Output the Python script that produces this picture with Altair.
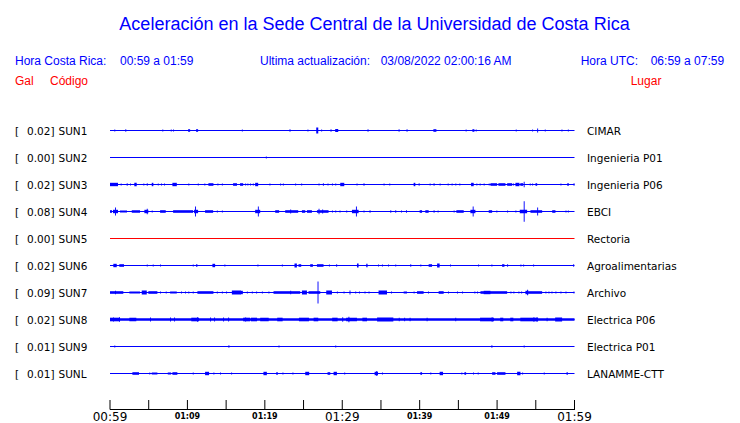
import altair as alt
import pandas as pd

codes = ["SUN1", "SUN2", "SUN3", "SUN4", "SUN5", "SUN6", "SUN7", "SUN8", "SUN9", "SUNL"]
peaks = [0.02, 0.00, 0.02, 0.08, 0.00, 0.02, 0.09, 0.02, 0.01, 0.01]
places = ["CIMAR", "Ingenieria P01", "Ingenieria P06", "EBCI", "Rectoria",
          "Agroalimentarias", "Archivo", "Electrica P06", "Electrica P01", "LANAMME-CTT"]
trace_colors = ["#0000ff", "#0000ff", "#0000ff", "#0000ff", "#ff0000",
                "#0000ff", "#0000ff", "#0000ff", "#0000ff", "#0000ff"]

# bursts per station: (start minute, end minute, half amplitude), minutes after 00:59
bursts_sun1 = [(0.56, 0.56, 1), (1.98, 1.98, 1.3), (6.76, 6.76, 1), (7.85, 7.85, 1), (8.15, 8.15, 1),
               (10.09, 10.35, 1.3), (11.12, 11.38, 1.3), (17.03, 17.03, 1), (23.19, 23.19, 1.3),
               (25.51, 25.51, 1), (26.64, 26.9, 3), (27.28, 27.28, 1), (28.49, 28.49, 1.3),
               (29.09, 29.48, 1.5), (33.27, 33.27, 1.3), (37.28, 37.28, 1.3), (38.31, 38.31, 1.3),
               (41.77, 42.16, 1.3), (45.94, 45.94, 1), (46.81, 47.07, 1.3), (47.24, 47.24, 1),
               (52.41, 52.41, 1), (54.53, 54.53, 1), (55.18, 55.18, 2), (56.16, 56.16, 1),
               (58.32, 58.32, 1), (59.14, 59.14, 1)]
bursts_sun2 = [(20.13, 20.13, 1)]
bursts_sun3 = [(0.0, 1.03, 1.7), (1.38, 1.38, 1), (2.16, 2.16, 1.3), (2.59, 2.59, 1), (3.14, 3.45, 1.7),
               (4.31, 4.31, 1), (4.75, 4.75, 1.3), (5.39, 5.6, 1.7), (6.17, 6.17, 1), (6.59, 6.59, 1),
               (6.98, 6.98, 1), (8.06, 8.63, 1.7), (10.12, 10.12, 1), (11.34, 11.34, 1), (12.19, 12.19, 1),
               (12.71, 13.36, 1.3), (13.88, 13.88, 1), (14.45, 14.45, 1), (15.9, 16.4, 1.3),
               (16.8, 17.2, 1.3), (17.46, 17.46, 1), (17.75, 17.75, 1), (18.1, 18.1, 1), (18.45, 18.45, 1),
               (18.75, 19.14, 1.7), (20.6, 20.6, 1), (21.98, 21.98, 1), (22.33, 22.33, 1), (23.92, 23.92, 1),
               (24.7, 24.7, 1), (26.94, 26.94, 1), (27.5, 27.5, 1.3), (28.1, 28.1, 1), (28.67, 28.67, 1),
               (29.1, 29.1, 1), (29.74, 30.26, 1.7), (31.85, 31.85, 1), (32.75, 32.75, 1.3),
               (35.34, 35.34, 1), (36.08, 36.08, 1), (39.22, 39.44, 1.7), (39.87, 39.87, 1.3),
               (41.29, 41.29, 1), (41.8, 41.8, 1.3), (42.58, 42.58, 1), (43.62, 43.62, 1), (44.13, 44.13, 1),
               (44.61, 44.61, 1), (45.13, 45.13, 1), (46.64, 46.98, 1.7), (47.33, 47.33, 1),
               (47.75, 47.75, 1), (48.27, 48.27, 1), (48.92, 48.92, 1), (49.14, 50.0, 1.3),
               (50.17, 51.08, 1.3), (51.3, 51.95, 1.3), (52.07, 52.07, 1), (52.37, 52.89, 1.7),
               (53.0, 53.37, 1.3), (53.44, 53.44, 2.7), (54.22, 54.22, 1), (54.53, 54.53, 1),
               (54.96, 55.18, 1.3), (58.19, 58.19, 1), (59.06, 59.27, 1.3), (59.88, 60.0, 1.3)]
bursts_sun4 = [(0.0, 0.26, 1.3), (0.39, 1.03, 1.7), (0.65, 0.65, 4), (1.29, 2.2, 1), (2.81, 3.88, 1.3),
               (4.44, 4.95, 1.7), (4.75, 4.75, 2.7), (5.39, 5.39, 1), (6.47, 7.2, 1.3), (8.15, 10.73, 1.3),
               (10.86, 11.38, 1.7), (10.99, 10.99, 5), (12.28, 13.32, 1.3), (13.8, 13.8, 1), (14.45, 14.45, 1),
               (18.75, 19.4, 1.7), (19.1, 19.1, 5), (21.34, 21.85, 1.3), (22.63, 24.31, 1.3),
               (23.28, 23.28, 2), (24.79, 25.22, 1.3), (25.44, 26.08, 1.3), (26.73, 28.23, 1.3),
               (26.94, 26.94, 2.7), (27.41, 27.41, 2), (28.67, 28.67, 1), (29.1, 29.1, 1), (29.65, 29.65, 1),
               (30.52, 30.52, 1), (31.25, 32.11, 1.7), (31.77, 31.77, 5), (32.75, 32.75, 1),
               (33.53, 33.53, 1.3), (36.21, 36.21, 1.3), (36.85, 36.85, 1.3), (37.59, 37.59, 1),
               (38.24, 38.24, 1.3), (40.0, 40.31, 1.3), (40.73, 41.16, 1.3), (41.8, 41.8, 1.3),
               (42.32, 42.32, 1), (44.39, 44.39, 1), (44.74, 45.69, 1.3), (46.55, 47.2, 1.7),
               (46.85, 46.85, 5), (48.92, 49.36, 1.3), (49.91, 49.91, 1), (51.3, 51.3, 1), (52.37, 52.37, 1),
               (52.93, 53.88, 1.7), (53.44, 53.44, 10.3), (54.31, 55.82, 1.3), (55.18, 55.18, 4),
               (57.12, 57.54, 1.3), (58.84, 58.84, 1), (59.14, 59.14, 1)]
bursts_sun5 = []
bursts_sun6 = [(0.43, 0.87, 1.7), (1.2, 1.81, 1.3), (4.75, 4.75, 1), (5.52, 5.52, 1), (6.47, 6.47, 1),
               (10.69, 10.69, 1), (11.12, 11.29, 1.3), (13.23, 13.58, 1.7), (14.78, 14.78, 1),
               (19.05, 19.05, 1), (22.2, 22.2, 1), (23.83, 24.14, 2), (24.35, 24.7, 1.3), (25.86, 26.21, 1.3),
               (26.73, 27.58, 1.3), (28.28, 28.28, 1), (29.22, 29.22, 1.3), (31.9, 32.11, 2),
               (33.1, 33.27, 1.7), (34.62, 34.62, 1), (35.13, 35.13, 1), (35.91, 35.91, 1), (36.85, 36.85, 1),
               (38.79, 38.79, 1.3), (40.09, 40.09, 1), (41.16, 41.6, 1.3), (42.25, 42.58, 2),
               (43.93, 43.93, 1), (47.55, 47.55, 1), (49.27, 49.27, 1), (50.65, 50.95, 1.3),
               (51.3, 51.3, 1.3), (53.02, 53.02, 1), (53.37, 53.37, 1), (54.66, 54.66, 1), (59.83, 59.83, 1.3)]
bursts_sun7 = [(0.0, 1.72, 1.3), (0.65, 0.65, 1.7), (2.5, 3.88, 1), (4.1, 4.75, 2), (4.95, 6.12, 1.3),
               (6.47, 6.47, 1), (7.2, 7.2, 1), (7.76, 8.63, 1), (9.18, 9.18, 1), (9.7, 9.7, 1),
               (10.12, 10.12, 1), (10.69, 10.69, 1), (11.29, 13.36, 1.3), (13.8, 13.8, 1), (14.45, 14.45, 1),
               (15.0, 15.0, 1), (15.74, 16.9, 2), (16.81, 17.16, 1.7), (17.68, 17.68, 1), (18.32, 18.32, 1),
               (18.88, 18.88, 1), (19.62, 19.62, 1), (20.47, 20.47, 1), (21.12, 24.57, 1.3),
               (23.28, 23.28, 1.7), (24.79, 25.44, 2), (25.64, 27.16, 1.3), (26.81, 26.81, 11),
               (27.93, 28.67, 2), (29.31, 29.31, 1), (30.17, 30.17, 1), (30.94, 30.94, 2), (31.68, 31.68, 1),
               (32.16, 32.16, 1), (32.88, 32.88, 1), (33.4, 33.4, 1), (34.69, 35.78, 2), (36.3, 36.3, 1),
               (37.93, 38.37, 1), (39.22, 39.22, 1), (39.66, 40.51, 1.3), (41.08, 41.08, 1),
               (42.45, 43.1, 1.3), (43.67, 43.67, 1), (44.83, 44.83, 1), (45.48, 45.48, 1), (47.07, 47.07, 1),
               (47.42, 47.42, 1), (47.85, 51.3, 1.3), (48.27, 49.14, 1.7), (51.73, 51.73, 1),
               (52.11, 52.11, 1), (52.76, 52.76, 1), (53.11, 53.11, 1), (53.66, 54.09, 1.7),
               (53.88, 53.88, 2.7), (54.09, 55.82, 1.3), (56.25, 56.25, 1), (56.64, 56.64, 1),
               (57.03, 57.03, 1), (57.54, 57.54, 1), (58.19, 58.19, 1), (58.84, 58.84, 1), (59.87, 59.87, 1)]
bursts_sun8 = [(0.0, 60.0, 1.2), (0.0, 1.3, 1.8), (0.39, 0.39, 2), (1.16, 1.16, 2.3), (2.5, 3.4, 1.8),
               (5.17, 5.17, 2), (7.76, 7.76, 2), (8.28, 8.28, 2), (10.5, 11.5, 1.8), (11.25, 11.25, 2.3),
               (12.93, 12.93, 2), (13.45, 13.45, 2), (14.61, 14.61, 2), (15.26, 15.26, 2), (17.46, 17.46, 2),
               (17.2, 18.1, 1.8), (18.2, 19.0, 1.8), (19.4, 20.5, 1.8), (21.6, 22.3, 1.8), (24.4, 25.7, 1.8),
               (26.3, 26.9, 1.8), (28.7, 29.4, 1.8), (30.0, 30.0, 2.3), (30.5, 31.9, 1.8), (30.8, 30.8, 2.7),
               (32.6, 33.2, 1.8), (34.5, 36.6, 2), (37.3, 37.3, 1.8), (38.0, 38.0, 1.8), (38.7, 38.7, 1.8),
               (40.9, 40.9, 1.8), (44.6, 44.6, 1.8), (47.8, 49.6, 1.8), (49.3, 49.3, 2.3), (50.4, 50.8, 1.8),
               (51.7, 52.1, 1.8), (53.0, 55.3, 1.8), (54.7, 54.7, 2.3), (55.1, 55.1, 2.3), (56.4, 56.4, 1.8),
               (57.5, 58.4, 2)]
bursts_sun9 = [(0.56, 0.56, 1), (15.3, 15.3, 1.3), (21.77, 21.77, 1), (29.1, 29.1, 1), (49.27, 49.27, 1.3),
               (53.44, 53.44, 1)]
bursts_sunl = [(2.89, 3.75, 1.3), (5.08, 5.08, 1), (5.39, 6.12, 1), (7.46, 7.89, 1), (8.06, 8.7, 1.3),
               (10.69, 10.69, 1), (12.28, 12.8, 1.7), (13.36, 13.36, 1), (14.22, 14.22, 1), (15.65, 15.65, 1),
               (19.82, 20.26, 1.7), (21.47, 21.68, 1.3), (22.28, 22.28, 1), (23.57, 23.57, 1),
               (25.22, 25.73, 1.7), (28.1, 28.45, 1.3), (28.88, 29.31, 1.7), (30.26, 30.26, 1),
               (34.18, 34.62, 1.7), (34.4, 34.4, 2.5), (35.13, 35.13, 1), (40.09, 40.31, 1.3),
               (41.38, 41.38, 1), (42.58, 43.02, 1.7), (45.39, 45.39, 1), (45.78, 46.0, 1.3),
               (46.9, 46.9, 1), (47.5, 47.5, 1), (49.36, 49.79, 1.3), (50.0, 51.08, 1.3),
               (52.59, 53.02, 1.7), (53.24, 53.24, 1), (56.03, 56.03, 1), (58.97, 59.14, 1.3)]
all_bursts = [bursts_sun1, bursts_sun2, bursts_sun3, bursts_sun4, bursts_sun5,
              bursts_sun6, bursts_sun7, bursts_sun8, bursts_sun9, bursts_sunl]

tick_minutes = list(range(0, 61, 5))
label_minutes = [0, 10, 20, 30, 40, 50, 60]
label_texts = ["00:59", "01:09", "01:19", "01:29", "01:39", "01:49", "01:59"]
label_major = [True, False, False, True, False, False, True]

BLUE = "#0000ff"
RED = "#ff0000"
HFONT = "Liberation Sans"
LFONT = "DejaVu Sans"
ROW_UNIT = 27.0

stations = pd.DataFrame({
    "row": list(range(len(codes))),
    "code": codes,
    "peak": [f"{p:.2f}]" for p in peaks],
    "place": places,
})

recs = []
for i, bl in enumerate(all_bursts):
    for (t0, t1, a) in bl:
        if t1 <= t0:
            t1 = t0 + 0.12
        recs.append({"code": codes[i], "t0": t0, "t1": t1,
                     "lo": i - a / ROW_UNIT, "hi": i + a / ROW_UNIT})
bursts = pd.DataFrame(recs)

ticks = pd.DataFrame({"t": tick_minutes})
labels = pd.DataFrame({"t": label_minutes, "text": label_texts, "major": label_major})

xs = alt.Scale(domain=[0, 60], range=[102, 566.5], nice=False, zero=False)
ys = alt.Scale(domain=[0, 9], range=[122.5, 365.5], nice=False, zero=False)
cs = alt.Scale(domain=codes, range=trace_colors)

base_lines = alt.Chart(stations).mark_rule(strokeWidth=1).encode(
    x=alt.X(datum=0, scale=xs, axis=None),
    x2=alt.X2(datum=60),
    y=alt.Y("row:Q", scale=ys, axis=None),
    color=alt.Color("code:N", scale=cs, legend=None),
)

burst_marks = alt.Chart(bursts).mark_rect(strokeWidth=0).encode(
    x=alt.X("t0:Q", scale=xs, axis=None),
    x2="t1:Q",
    y=alt.Y("lo:Q", scale=ys, axis=None),
    y2="hi:Q",
    color=alt.Color("code:N", scale=cs, legend=None),
)

lbl_kw = dict(font=LFONT, fontSize=10.5, baseline="alphabetic", dy=4, color="black")
bracket = alt.Chart(stations).mark_text(align="left", **lbl_kw).encode(
    x=alt.value(7), y=alt.Y("row:Q", scale=ys, axis=None), text=alt.value("["))
peak_txt = alt.Chart(stations).mark_text(align="right", **lbl_kw).encode(
    x=alt.value(46.5), y=alt.Y("row:Q", scale=ys, axis=None), text="peak:N")
code_txt = alt.Chart(stations).mark_text(align="left", **lbl_kw).encode(
    x=alt.value(50.5), y=alt.Y("row:Q", scale=ys, axis=None), text="code:N")
place_txt = alt.Chart(stations).mark_text(align="left", **lbl_kw).encode(
    x=alt.value(579), y=alt.Y("row:Q", scale=ys, axis=None), text="place:N")

tick_rules = alt.Chart(ticks).mark_rule(color="black", strokeWidth=1).encode(
    x=alt.X("t:Q", scale=xs, axis=None), y=alt.value(392), y2=alt.value(401.5))
axis_line = alt.Chart(ticks).mark_rule(color="black", strokeWidth=1).encode(
    x=alt.X(datum=0, scale=xs, axis=None), x2=alt.X2(datum=60), y=alt.value(401.5))
major_lbl = alt.Chart(labels).transform_filter("datum.major").mark_text(
    font=LFONT, fontSize=12, align="center", baseline="alphabetic", color="black").encode(
    x=alt.X("t:Q", scale=xs, axis=None), y=alt.value(413), text="text:N")
minor_lbl = alt.Chart(labels).transform_filter("!datum.major").mark_text(
    font=LFONT, fontSize=8, fontWeight="bold", align="center", baseline="alphabetic", color="black").encode(
    x=alt.X("t:Q", scale=xs, axis=None), y=alt.value(411), text="text:N")


def htext(txt, x, y, color, size=12, align="left"):
    return alt.Chart(alt.Data(values=[{"k": 1}])).mark_text(
        font=HFONT, fontSize=size, align=align, baseline="alphabetic", color=color, text=txt
    ).encode(x=alt.value(x), y=alt.value(y))


header = [
    htext("Aceleración en la Sede Central de la Universidad de Costa Rica", 366.5, 21.5, BLUE, size=18, align="center"),
    htext("Hora Costa Rica:", 7, 57, BLUE),
    htext("00:59 a 01:59", 112, 57, BLUE),
    htext("Ultima actualización:", 252, 57, BLUE),
    htext("03/08/2022 02:00:16 AM", 372.7, 57, BLUE),
    htext("Hora UTC:", 572.7, 57, BLUE),
    htext("06:59 a 07:59", 642.7, 57, BLUE),
    htext("Gal", 7, 76.5, RED),
    htext("Código", 42, 76.5, RED),
    htext("Lugar", 622.7, 76.5, RED),
]

chart = alt.layer(
    base_lines, burst_marks, bracket, peak_txt, code_txt, place_txt,
    tick_rules, axis_line, major_lbl, minor_lbl, *header
).properties(
    width=724, height=415, padding=0, autosize=alt.AutoSizeParams(type="none"), background="white"
).configure_view(stroke=None)

chart.save("out.html", embed_options={"renderer": "svg", "actions": False})
